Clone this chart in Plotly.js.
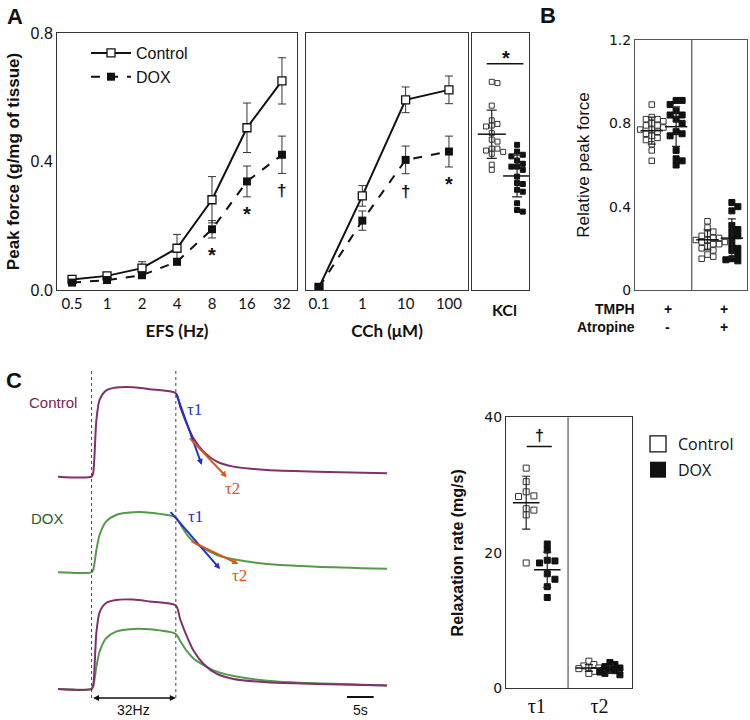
<!DOCTYPE html>
<html><head><meta charset="utf-8">
<script src="https://cdn.plot.ly/plotly-3.0.1.min.js"></script>
<style>html,body{margin:0;padding:0;background:#fff}</style>
</head><body><div id="chart" style="width:750px;height:720px"></div>
<script>
// ---------- Panel A: EFS ----------
const efsHz = ['0.5','1','2','4','8','16','32'];
const efsCtrl = [0.033, 0.044, 0.068, 0.130, 0.281, 0.505, 0.651];
const efsCtrlErr = [0.006, 0.006, 0.020, 0.043, 0.072, 0.077, 0.072];
const efsDox = [0.023, 0.031, 0.046, 0.088, 0.189, 0.338, 0.421];
const efsDoxErr = [0.005, 0.006, 0.008, 0.010, 0.027, 0.048, 0.058];
const efsSig = ['', '', '', '', '*', '*', '†'];
// ---------- Panel A: CCh ----------
const cchUM = ['0.1','1','10','100'];
const cchCtrl = [0.008, 0.293, 0.592, 0.623];
const cchCtrlErr = [0.004, 0.032, 0.040, 0.043];
const cchDox = [0.008, 0.216, 0.405, 0.431];
const cchDoxErr = [0.004, 0.030, 0.043, 0.048];
const cchSig = ['', '', '†', '*'];
// ---------- Panel A: KCl ----------
const kclCtrl = [0.648, 0.644, 0.574, 0.528, 0.517, 0.512, 0.509, 0.488, 0.468, 0.462, 0.440, 0.440, 0.434, 0.430, 0.424, 0.390, 0.374];
const kclDox = [0.452, 0.431, 0.421, 0.416, 0.403, 0.393, 0.384, 0.384, 0.374, 0.353, 0.333, 0.330, 0.312, 0.306, 0.270, 0.249, 0.244];
const kclMean = [0.485, 0.355];
const kclSD = [0.075, 0.065];
// ---------- Panel B ----------
const bTMPH = ['+', '+'];
const bAtropine = ['-', '+'];
const bCtrl1 = [0.89, 0.83, 0.82, 0.82, 0.81, 0.80, 0.79, 0.79, 0.78, 0.77, 0.77, 0.76, 0.75, 0.74, 0.73, 0.72, 0.70, 0.67, 0.62];
const bDox1 = [0.91, 0.91, 0.89, 0.86, 0.84, 0.84, 0.82, 0.80, 0.76, 0.75, 0.74, 0.67, 0.63, 0.62, 0.60];
const bCtrl2 = [0.33, 0.30, 0.28, 0.27, 0.26, 0.25, 0.25, 0.24, 0.24, 0.23, 0.23, 0.22, 0.22, 0.21, 0.20, 0.19, 0.17, 0.16, 0.15];
const bDox2 = [0.42, 0.40, 0.38, 0.31, 0.29, 0.28, 0.26, 0.25, 0.22, 0.20, 0.19, 0.17, 0.15, 0.145, 0.14];
const bCtrlMean = [0.765, 0.241];
const bCtrlSD = [0.065, 0.048];
const bDoxMean = [0.784, 0.249];
const bDoxSD = [0.095, 0.092];
// ---------- Panel C: traces ----------
const traceT = [0, 6.3, 6.6, 7.2, 7.8, 9.0, 10.9, 14.1, 17.2, 22.1, 22.9, 24.1, 25.4, 27.3, 29.8, 32.9, 39.2, 48.5, 61.7];
const ctrlForce = [0, 0, 0.04, 0.634, 0.858, 0.962, 0.996, 1.0, 0.978, 0.933, 0.783, 0.597, 0.43, 0.28, 0.168, 0.112, 0.075, 0.056, 0.038];
const doxForce = [0, 0, 0.026, 0.25, 0.417, 0.566, 0.641, 0.671, 0.667, 0.615, 0.54, 0.428, 0.342, 0.268, 0.194, 0.145, 0.093, 0.063, 0.04];
const stimOn = 6.3, stimOff = 22.1;
// ---------- Panel C: relaxation rate ----------
const tauLabels = ['τ1', 'τ2'];
const tau1Ctrl = [32.5, 30.5, 29.0, 28.4, 28.3, 26.5, 26.3, 25.6, 18.5];
const tau1Dox = [21.3, 20.4, 18.9, 18.8, 18.5, 16.9, 16.1, 15.0, 13.4];
const tau2Ctrl = [4.0, 3.5, 3.3, 3.1, 3.0, 2.9, 2.7, 2.5, 2.2];
const tau2Dox = [3.8, 3.5, 3.2, 3.0, 2.8, 2.6, 2.4, 2.2, 2.0];
const tauCtrlMean = [27.4, 3.0];
const tauCtrlSD = [3.9, 0.5];
const tauDoxMean = [17.5, 2.8];
const tauDoxSD = [2.6, 0.6];

// ---------- geometry helpers ----------
const W = 750, H = 720;
const xd = (a, b) => [a / W, b / W];
const yd = (top, bottom) => [1 - bottom / H, 1 - top / H];
const py = p => 1 - p / H;
const AR = 'Liberation Sans, Arial, sans-serif';
const LATO = 'Lato, sans-serif';
const DV = 'DejaVu Sans, sans-serif';
const SERIF = 'Liberation Serif, DejaVu Serif, serif';

const geo = {
  efs: {x: [57, 297], xr: [-0.43, 6.43]},
  cch: {x: [306, 468], xr: [-0.3, 3.44]},
  kcl: {x: [472, 529], xr: [-0.78, 1.47]},
  aY: {y: [33, 290], yr: [0, 0.8]},
  b: {x: [635, 747], xr: [-0.519, 1.49], y: [40, 290], yr: [0, 1.2]},
  ct: {x: [58, 387], xr: [0, 61.7]},
  cs: {x: [506, 632], xr: [-0.49, 1.52], y: [417.3, 688.3], yr: [0, 40]}
};
const pxPerX = g => (g.x[1] - g.x[0]) / (g.xr[1] - g.xr[0]);
const pxPerY = g => (g.y[1] - g.y[0]) / (g.yr[1] - g.yr[0]);

// simple deterministic beeswarm: spread overlapping points sideways
function swarm(values, center, xScale, yScale, diam, step) {
  const order = values.map((v, i) => i).sort((a, b) => values[b] - values[a]);
  const placed = [];
  const xs = new Array(values.length);
  order.forEach(i => {
    const ypx = values[i] * yScale;
    for (let n = 0; n < 30; n++) {
      const k = n === 0 ? 0 : (n % 2 ? Math.ceil(n / 2) : -n / 2);
      if (!placed.some(p => p.k === k && Math.abs(p.ypx - ypx) < diam)) {
        placed.push({k, ypx});
        xs[i] = center + k * step / xScale;
        break;
      }
    }
  });
  return xs;
}

const idx = a => a.map((_, i) => i);
const data = [];
const BL = '#111';

// Panel A line charts
function linePair(xa, ya, cats, c, ce, d, de, legend) {
  data.push({
    x: idx(cats), y: c, xaxis: xa, yaxis: ya, name: 'Control', type: 'scatter',
    mode: 'lines+markers', showlegend: legend, legend: 'legend',
    line: {color: BL, width: 2},
    marker: {symbol: 'square', size: 8, color: '#fff', line: {color: BL, width: 1.3}},
    error_y: {type: 'data', array: ce, width: 4, thickness: 1, color: '#333'}
  });
  data.push({
    x: idx(cats), y: d, xaxis: xa, yaxis: ya, name: 'DOX', type: 'scatter',
    mode: 'lines+markers', showlegend: legend, legend: 'legend',
    line: {color: BL, width: 2, dash: 'dash'},
    marker: {symbol: 'square', size: 8, color: BL},
    error_y: {type: 'data', array: de, width: 4, thickness: 1, color: '#333'}
  });
}
linePair('x', 'y', efsHz, efsCtrl, efsCtrlErr, efsDox, efsDoxErr, true);
linePair('x2', 'y2', cchUM, cchCtrl, cchCtrlErr, cchDox, cchDoxErr, false);

// dot plots with mean ± SD
function dots(xa, ya, vals, center, g, filled, size, step) {
  data.push({
    x: swarm(vals, center, pxPerX(g), pxPerY(g), size, step), y: vals,
    xaxis: xa, yaxis: ya, type: 'scatter', mode: 'markers', showlegend: false,
    marker: {symbol: 'square', size: size, color: filled ? BL : '#fff', line: {color: filled ? BL : '#333', width: 1}}
  });
}
function meanSD(xa, ya, xs, means, sds, len, cap) {
  data.push({
    x: xs, y: means, xaxis: xa, yaxis: ya, type: 'scatter', mode: 'markers', showlegend: false,
    marker: {symbol: 'line-ew-open', size: len, color: BL, line: {color: BL, width: 1.5}},
    error_y: {type: 'data', array: sds, width: cap, thickness: 1.2, color: '#222'}
  });
}
const gK = {x: geo.kcl.x, xr: geo.kcl.xr, y: geo.aY.y, yr: geo.aY.yr};
dots('x3', 'y3', kclCtrl, 0, gK, false, 5, 5.7);
dots('x3', 'y3', kclDox, 1, gK, true, 5, 5.7);
meanSD('x3', 'y3', [0, 1], kclMean, kclSD, 20, 5);

// Panel B
const bOff = 0.2185;
dots('x4', 'y4', bCtrl1, 0 - bOff, geo.b, false, 5.5, 5.8);
dots('x4', 'y4', bDox1, 0 + bOff, geo.b, true, 6, 6);
dots('x4', 'y4', bCtrl2, 1 - bOff, geo.b, false, 5.5, 5.8);
dots('x4', 'y4', bDox2, 1 + bOff, geo.b, true, 6, 6);
meanSD('x4', 'y4', [0 - bOff, 1 - bOff], bCtrlMean, bCtrlSD, 16, 4);
meanSD('x4', 'y4', [0 + bOff, 1 + bOff], bDoxMean, bDoxSD, 16, 4);

// Panel C traces
const CCOL = '#80306a', DCOL = '#55994a';
const trLine = (y, ya, col) => ({
  x: traceT, y: y, xaxis: 'x5', yaxis: ya, type: 'scatter', mode: 'lines', showlegend: false,
  line: {color: col, width: 2, shape: 'spline', smoothing: 0.7}
});
data.push(trLine(ctrlForce, 'y5', CCOL));
data.push(trLine(doxForce, 'y6', DCOL));
data.push(trLine(doxForce, 'y7', DCOL));
data.push(trLine(ctrlForce, 'y7', CCOL));

// Panel C relaxation rate
const cOff = 0.168;
dots('x8', 'y8', tau1Ctrl, 0 - cOff, geo.cs, false, 6, 7.7);
dots('x8', 'y8', tau1Dox, 0 + cOff, geo.cs, true, 6, 7.7);
dots('x8', 'y8', tau2Ctrl, 1 - cOff, geo.cs, false, 6, 5);
dots('x8', 'y8', tau2Dox, 1 + cOff, geo.cs, true, 6, 5);
meanSD('x8', 'y8', [0 - cOff, 1 - cOff], tauCtrlMean, tauCtrlSD, 19, 4);
meanSD('x8', 'y8', [0 + cOff, 1 + cOff], tauDoxMean, tauDoxSD, 19, 4);
// legend entries for panel C
data.push({x: [null], y: [null], xaxis: 'x8', yaxis: 'y8', type: 'scatter', mode: 'markers', name: 'Control',
  legend: 'legend2', legendgroup: 'c', marker: {symbol: 'square', size: 16, color: '#fff', line: {color: BL, width: 1.3}}});
data.push({x: [null], y: [null], xaxis: 'x8', yaxis: 'y8', type: 'scatter', mode: 'markers', name: 'DOX',
  legend: 'legend2', legendgroup: 'd', marker: {symbol: 'square', size: 16, color: BL}});

// ---------- axes ----------
const boxAxis = (extra) => Object.assign({
  showgrid: false, zeroline: false, showline: true, mirror: true, linecolor: '#333', linewidth: 1,
  ticks: '', fixedrange: true
}, extra);

const layout = {
  width: W, height: H, autosize: false, margin: {l: 0, r: 0, t: 0, b: 0},
  paper_bgcolor: '#fff', plot_bgcolor: 'rgba(0,0,0,0)',
  font: {family: AR, color: BL},
  xaxis: boxAxis({domain: xd(...geo.efs.x), range: geo.efs.xr, anchor: 'y',
    tickvals: idx(efsHz), ticktext: efsHz, tickfont: {family: LATO, size: 15},
    title: {text: 'EFS (Hz)', font: {family: LATO, size: 17, weight: 700}, standoff: 14}}),
  yaxis: boxAxis({domain: yd(...geo.aY.y), range: geo.aY.yr, anchor: 'x',
    tickvals: [0, 0.4, 0.8], tickformat: '.1f', tickfont: {family: AR, size: 16},
    title: {text: 'Peak force (g/mg of tissue)', font: {family: AR, size: 17, weight: 700}, standoff: 6}}),
  xaxis2: boxAxis({domain: xd(...geo.cch.x), range: geo.cch.xr, anchor: 'y2',
    tickvals: idx(cchUM), ticktext: cchUM, tickfont: {family: LATO, size: 15},
    title: {text: 'CCh (μM)', font: {family: LATO, size: 17, weight: 700}, standoff: 14}}),
  yaxis2: boxAxis({domain: yd(...geo.aY.y), range: geo.aY.yr, anchor: 'x2', showticklabels: false}),
  xaxis3: boxAxis({domain: xd(...geo.kcl.x), range: geo.kcl.xr, anchor: 'y3',
    tickvals: [0.5], ticktext: ['KCl'], tickfont: {family: LATO, size: 16, weight: 700}, ticklabelstandoff: 6}),
  yaxis3: boxAxis({domain: yd(...geo.aY.y), range: geo.aY.yr, anchor: 'x3', showticklabels: false}),
  xaxis4: boxAxis({domain: xd(...geo.b.x), range: geo.b.xr, anchor: 'y4', showticklabels: false, linecolor: '#555'}),
  yaxis4: boxAxis({domain: yd(...geo.b.y), range: geo.b.yr, anchor: 'x4', linecolor: '#555',
    tickvals: [0, 0.4, 0.8, 1.2], ticktext: ['0', '0.4', '0.8', '1.2'], tickfont: {family: DV, size: 14},
    title: {text: 'Relative peak force', font: {family: AR, size: 17}, standoff: 14}}),
  xaxis5: {domain: xd(...geo.ct.x), range: geo.ct.xr, anchor: 'y5', visible: false, fixedrange: true},
  yaxis5: {domain: yd(378.3, 485.6), range: [-0.1, 1.1], anchor: 'x5', visible: false, fixedrange: true},
  yaxis6: {domain: yd(473.96, 581.24), range: [-0.1, 1.1], anchor: 'x5', visible: false, fixedrange: true},
  yaxis7: {domain: yd(590.64, 697.94), range: [-0.1, 1.1], anchor: 'x5', visible: false, fixedrange: true},
  xaxis8: boxAxis({domain: xd(...geo.cs.x), range: geo.cs.xr, anchor: 'y8',
    tickvals: [0, 1], ticktext: tauLabels, tickfont: {family: SERIF, size: 20}}),
  yaxis8: boxAxis({domain: yd(...geo.cs.y), range: geo.cs.yr, anchor: 'x8',
    tickvals: [0, 20, 40], tickfont: {family: DV, size: 14},
    title: {text: 'Relaxation rate (mg/s)', font: {family: AR, size: 16, weight: 700}, standoff: 16}}),
  legend: {x: 86 / W, y: py(36), xanchor: 'left', yanchor: 'top', bgcolor: 'rgba(0,0,0,0)',
    font: {family: AR, size: 16}, itemwidth: 40, tracegroupgap: 0},
  legend2: {x: 638 / W, y: py(427), xanchor: 'left', yanchor: 'top', bgcolor: 'rgba(0,0,0,0)',
    font: {family: 'Open Sans, sans-serif', size: 16}, tracegroupgap: 2, itemsizing: 'trace'},
  shapes: [], annotations: []
};

// paper-positioned text, centred on (x, y) in pixels
function paperText(x, y, s, font, extra) {
  layout.annotations.push(Object.assign({xref: 'paper', yref: 'paper', x: x / W, y: py(y), text: s, showarrow: false,
    xanchor: 'center', yanchor: 'middle', font: font}, extra || {}));
}

// significance markers under DOX points in panel A
function sigAnn(xa, ya, sig, dox, err) {
  sig.forEach((s, i) => {
    if (!s) return;
    layout.annotations.push({xref: xa, yref: ya, x: i, y: dox[i] - err[i], text: s, showarrow: false,
      xanchor: 'center', yanchor: 'top', yshift: s === '*' ? -4 : -6,
      font: {family: AR, size: s === '*' ? 20 : 17, weight: 700, color: BL}});
  });
}
sigAnn('x', 'y', efsSig, efsDox, efsDoxErr);
sigAnn('x2', 'y2', cchSig, cchDox, cchDoxErr);

// KCl significance bar
layout.shapes.push({type: 'line', xref: 'x3', yref: 'y3', x0: -0.2, x1: 1.25, y0: 0.704, y1: 0.704, line: {color: BL, width: 1.5}});
layout.annotations.push({xref: 'x3', yref: 'y3', x: 0.55, y: 0.704, text: '*', showarrow: false, xanchor: 'center', yanchor: 'bottom', yshift: -7,
  font: {family: AR, size: 20, weight: 700, color: BL}});

// Panel B divider + condition rows
layout.shapes.push({type: 'line', xref: 'x4', yref: 'y4 domain', x0: 0.5, x1: 0.5, y0: 0, y1: 1, line: {color: '#333', width: 1}});
const bFont = {family: AR, size: 14, weight: 700, color: BL};
paperText(637, 309, 'TMPH', bFont, {xanchor: 'right'});
paperText(637, 327, 'Atropine', bFont, {xanchor: 'right'});
bTMPH.forEach((s, i) => layout.annotations.push({xref: 'x4', yref: 'paper', x: i + 0.07, y: py(309), text: s, showarrow: false,
  xanchor: 'center', yanchor: 'middle', font: bFont}));
bAtropine.forEach((s, i) => layout.annotations.push({xref: 'x4', yref: 'paper', x: i + 0.07, y: py(327), text: s, showarrow: false,
  xanchor: 'center', yanchor: 'middle', font: bFont}));

// Panel C right: divider + significance
layout.shapes.push({type: 'line', xref: 'x8', yref: 'y8 domain', x0: 0.5, x1: 0.5, y0: 0, y1: 1, line: {color: '#333', width: 1}});
layout.shapes.push({type: 'line', xref: 'x8', yref: 'y8', x0: -0.16, x1: 0.24, y0: 35.7, y1: 35.7, line: {color: BL, width: 1.5}});
layout.annotations.push({xref: 'x8', yref: 'y8', x: 0.04, y: 35.7, text: '†', showarrow: false, xanchor: 'center', yanchor: 'bottom',
  font: {family: AR, size: 16, weight: 700, color: BL}});

// Panel C traces: stimulation markers, scale bar, labels, tangents
[stimOn, stimOff].forEach(t => layout.shapes.push({type: 'line', xref: 'x5', yref: 'paper', x0: t, x1: t,
  y0: py(698), y1: py(370), line: {color: '#444', width: 1, dash: 'dot'}}));
layout.annotations.push({xref: 'x5', yref: 'paper', x: stimOff, y: py(698), axref: 'x5', ax: stimOn, ayref: 'pixel', ay: 0,
  text: '', showarrow: true, arrowside: 'end+start', arrowhead: 2, arrowsize: 0.8, arrowwidth: 1.5, arrowcolor: BL, standoff: 0, startstandoff: 0});
paperText(133, 710, '32Hz', {family: AR, size: 14, color: BL});
layout.shapes.push({type: 'line', xref: 'x5', yref: 'paper', x0: 54.2, x1: 59.2, y0: py(697), y1: py(697), line: {color: BL, width: 2}});
paperText(360, 710, '5s', {family: AR, size: 14, color: BL});
paperText(53, 402, 'Control', {family: AR, size: 15, color: '#7a1f55'});
paperText(47, 518, 'DOX', {family: AR, size: 15, color: '#2d5e1e'});

const BLUE = '#1f33cc', ORANGE = '#e0541c';
function tangent(ya, t0, v0, t1, v1, col) {
  layout.annotations.push({xref: 'x5', yref: ya, x: t1, y: v1, axref: 'x5', ayref: ya, ax: t0, ay: v0, text: '',
    showarrow: true, arrowhead: 2, arrowsize: 0.6, arrowwidth: 2, arrowcolor: col, standoff: 0});
}
tangent('y5', 22.1, 0.94, 26.96, 0.131, BLUE);
tangent('y5', 24.45, 0.447, 31.65, -0.007, ORANGE);
tangent('y6', 20.88, 0.689, 30.39, 0.037, BLUE);
tangent('y6', 24.77, 0.353, 33.83, 0.093, ORANGE);
paperText(194, 409, 'τ1', {family: SERIF, size: 17, color: BLUE});
paperText(232, 488, 'τ2', {family: SERIF, size: 17, color: ORANGE});
paperText(195, 516, 'τ1', {family: SERIF, size: 17, color: BLUE});
paperText(239, 575, 'τ2', {family: SERIF, size: 17, color: ORANGE});

// panel letters
const letterFont = {family: AR, size: 22, weight: 700, color: BL};
paperText(15, 16, 'A', letterFont);
paperText(548, 15, 'B', letterFont);
paperText(14, 380, 'C', letterFont);

Plotly.newPlot('chart', data, layout, {staticPlot: true, displayModeBar: false});
</script>
</body></html>
